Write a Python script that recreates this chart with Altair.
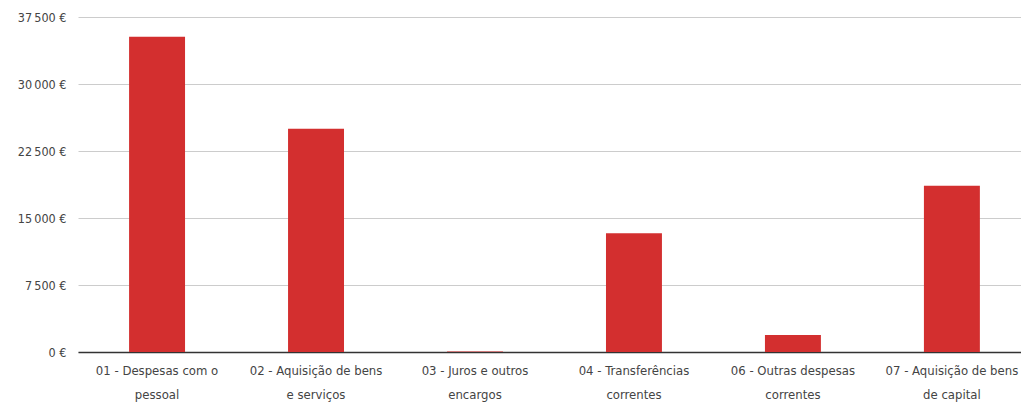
import altair as alt
import pandas as pd

categories = [
    "01 - Despesas com o\npessoal",
    "02 - Aquisição de bens\ne serviços",
    "03 - Juros e outros\nencargos",
    "04 - Transferências\ncorrentes",
    "06 - Outras despesas\ncorrentes",
    "07 - Aquisição de bens\nde capital",
]
values = [35300, 25000, 60, 13300, 1900, 18600]
y_ticks = [0, 7500, 15000, 22500, 30000, 37500]

df = pd.DataFrame({"cat": categories, "val": values})

font = "DejaVu Sans Condensed, Liberation Sans, sans-serif"

chart = alt.Chart(df).mark_bar(color="#D32F2F").encode(
    x=alt.X("cat:N", sort=categories, title=None,
            scale=alt.Scale(paddingInner=0.648, paddingOuter=0.29, align=0.554),
            axis=alt.Axis(labelAngle=0, labelExpr="split(datum.label, '\\n')",
                          labelFont=font, labelFontSize=13, labelColor="#444444",
                          labelPadding=12, labelLineHeight=24, ticks=False,
                          domainColor="#333333", domainWidth=1.5, labelBaseline="top")),
    y=alt.Y("val:Q", title=None,
            scale=alt.Scale(domain=[0, 37500], nice=False),
            axis=alt.Axis(values=y_ticks, ticks=False, domain=False,
                          labelExpr="replace(format(datum.value, ',d'), ',', '\u2009') + ' €'",
                          labelFont=font, labelFontSize=12.5, labelColor="#444444",
                          labelPadding=12, gridColor="#cccccc", gridWidth=1)),
).properties(
    width=943, height=335,
    autosize=alt.AutoSizeParams(type="none"),
    padding={"left": 70, "top": 9, "right": 0, "bottom": 50},
).configure_view(stroke=None)

chart.save("out.html", embed_options={"renderer": "svg", "actions": False})
